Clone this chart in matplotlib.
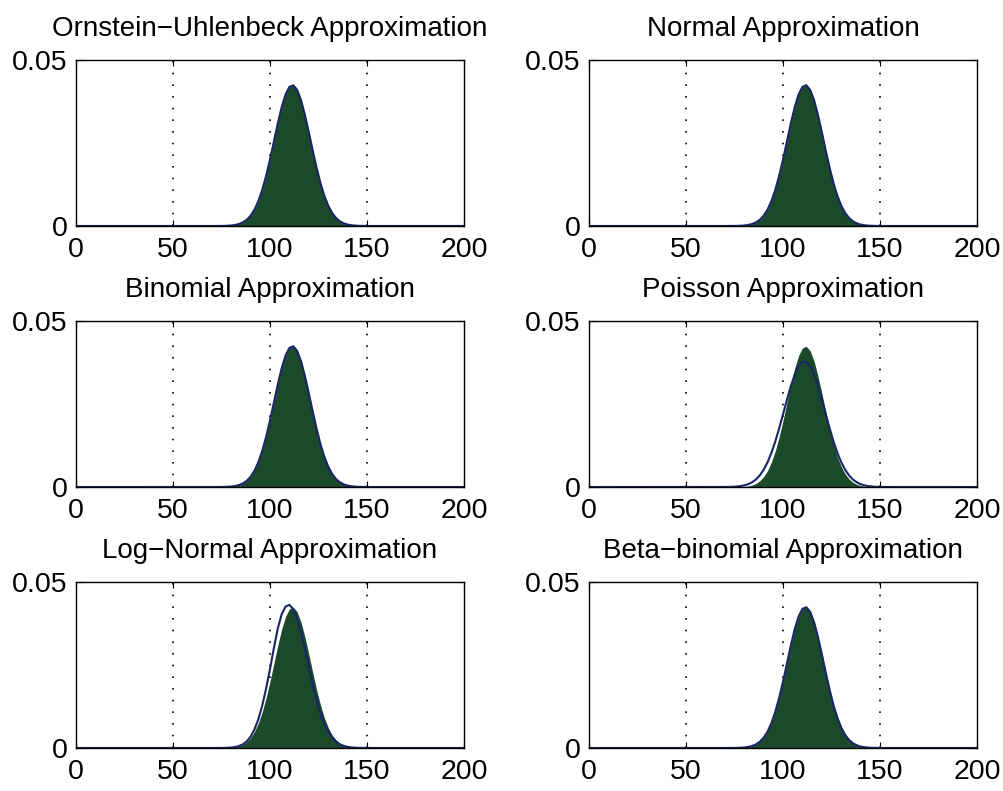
import numpy as np
import matplotlib
matplotlib.use("Agg")
import matplotlib.pyplot as plt

plt.rcParams['font.family'] = ['Liberation Sans', 'DejaVu Sans']

# population size grid (every 2 individuals)
x = np.arange(70, 158, 2)

# exact distribution (green area)
exact_pmf = [0.0000025, 0.0000062, 0.0000148, 0.0000340, 0.0000742, 0.000155,
             0.000309, 0.000588, 0.001071, 0.001865, 0.003102, 0.004932,
             0.007500, 0.010898, 0.015130, 0.020078, 0.025468, 0.030871,
             0.035764, 0.039597, 0.041905, 0.042381, 0.040963, 0.037844,
             0.033413, 0.028197, 0.022744, 0.017528, 0.012915, 0.009091,
             0.006120, 0.003935, 0.002419, 0.001422, 0.000798, 0.000428,
             0.000220, 0.000108, 0.0000505, 0.0000226, 0.0000097, 0.0000040,
             0.0000016, 0.0000006]

# approximations (blue lines)
ou_approx = exact_pmf
normal_approx = exact_pmf
binomial_approx = exact_pmf
betabinomial_approx = exact_pmf

poisson_approx = [0.0000195, 0.0000401, 0.0000795, 0.000152, 0.000281, 0.000499,
                  0.000857, 0.001419, 0.002268, 0.003495, 0.005195, 0.007449,
                  0.010301, 0.013743, 0.017689, 0.021957, 0.026293, 0.030368,
                  0.033837, 0.036367, 0.037700, 0.037700, 0.036367, 0.033837,
                  0.030368, 0.026293, 0.021957, 0.017689, 0.013743, 0.010301,
                  0.007449, 0.005195, 0.003495, 0.002268, 0.001419, 0.000857,
                  0.000499, 0.000281, 0.000152, 0.0000795, 0.0000401, 0.0000195,
                  0.0000092, 0.0000040]

lognormal_approx = [0.0000015, 0.0000040, 0.0000105, 0.0000260, 0.0000610, 0.000136,
                    0.000288, 0.000577, 0.001098, 0.001988, 0.003420, 0.005590,
                    0.008680, 0.012800, 0.017930, 0.023840, 0.030100, 0.036020,
                    0.040250, 0.042600, 0.043100, 0.041800, 0.038900, 0.034700,
                    0.029700, 0.024400, 0.019200, 0.014500, 0.010500, 0.007300,
                    0.004860, 0.003100, 0.001900, 0.001110, 0.000625, 0.000337,
                    0.000174, 0.0000860, 0.0000407, 0.0000184, 0.0000080, 0.0000034,
                    0.0000014, 0.0000005]

titles = ["Ornstein\u2212Uhlenbeck Approximation", "Normal Approximation",
          "Binomial Approximation", "Poisson Approximation",
          "Log\u2212Normal Approximation", "Beta\u2212binomial Approximation"]
approxs = [ou_approx, normal_approx, binomial_approx, poisson_approx,
           lognormal_approx, betabinomial_approx]

green = '#1b4a2b'
blue = '#1a2566'

fig = plt.figure(figsize=(10.04, 7.91), dpi=100)
lefts = [0.0757, 0.5867]
bottoms = [0.7143, 0.3843, 0.0544]
w, h = 0.3865, 0.2099

for i in range(6):
    ax = fig.add_axes([lefts[i % 2], bottoms[i // 2], w, h])
    ax.fill_between(x, exact_pmf, 0, color=green, lw=0, zorder=2)
    xs = np.concatenate([[0], x, [200]])
    ys = np.concatenate([[0], approxs[i], [0]])
    ax.plot(xs, ys, color=blue, lw=1.5, zorder=3)
    ax.set_xlim(0, 200)
    ax.set_ylim(0, 0.05)
    ax.set_xticks([0, 50, 100, 150, 200])
    ax.set_yticks([0, 0.05])
    ax.set_yticklabels(['0', '0.05'])
    ax.tick_params(direction='in', top=True, right=True, labelsize=20.5,
                   length=4, pad=6)
    ax.tick_params(axis='x', pad=8)
    for xv in [50, 100, 150]:
        ax.axvline(xv, color='black', ls=(0, (1, 6)), lw=1.2, zorder=1)
    for s in ax.spines.values():
        s.set_linewidth(1.0)
        s.set_zorder(4)
    ax.set_title(titles[i], fontsize=20, pad=17)

fig.savefig('out.png', dpi=100)
